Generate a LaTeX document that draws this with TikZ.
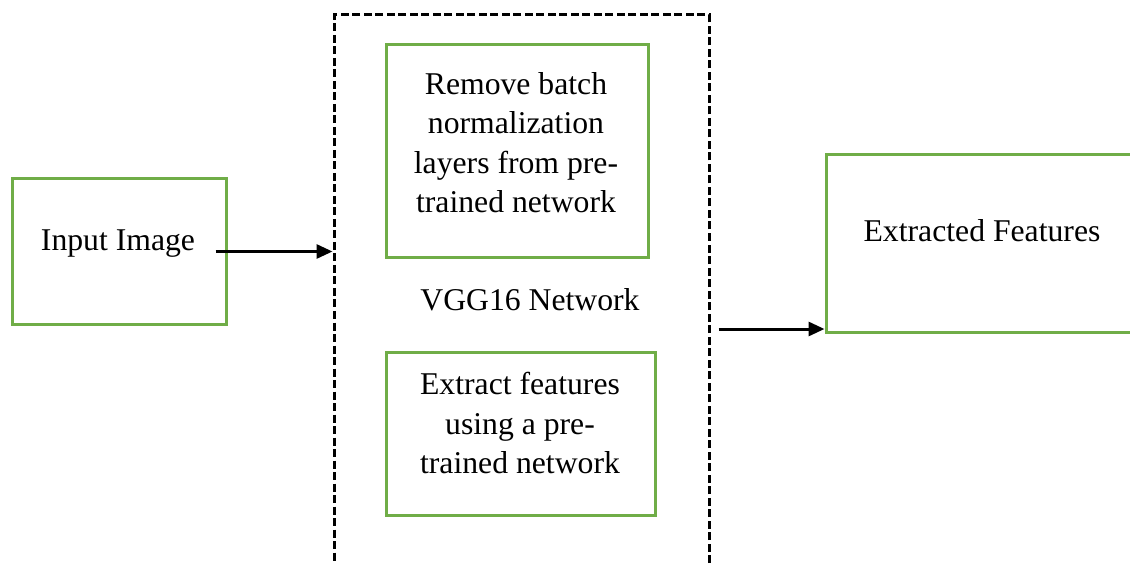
\documentclass[tikz,border=0pt]{standalone}
\usepackage{xcolor}
\usepackage{fontspec}
\setmainfont{Liberation Serif}
\usepackage{tikz}
\usetikzlibrary{arrows.meta, positioning}
\definecolor{boxgreen}{RGB}{112,173,71}

\begin{document}
\begin{tikzpicture}[x=1pt, y=-1pt,
			>={Triangle[length=16pt, width=14pt]},
			line width=3pt,
			box/.style={draw=boxgreen, line width=3pt},
			txt/.style={inner sep=0pt, align=center, font=\fontsize{31.7}{39.5}\selectfont}]
			
			\useasboundingbox (0,0) rectangle (1130,564);
			\clip (0,0) rectangle (1130,564);
			
			% network frame, runs off the bottom
			\node[draw=black, dash pattern=on 8pt off 3.5pt, minimum width=375pt, minimum height=610pt] (vgg) at (521.5,320) {};
			\node[txt, anchor=base] (vggtxt) at (530,310) {VGG16 Network};
			
			\node[box, minimum width=214pt, minimum height=145pt] (input) at (119,251.5) {};
			\node[txt, anchor=base] (inputtxt) at (118,251) {Input Image};
			
			\node[box, minimum width=262pt, minimum height=213pt] (removebn) at (517,151.5) {};
			\node[txt, anchor=north] (removebntxt) at (516,71) {Remove batch\\normalization\\layers from pre-\\trained network};
			
			\node[box, minimum width=269pt, minimum height=163pt] (extract) at (520.5,433.5) {};
			\node[txt, anchor=north] (extracttxt) at (520,371) {Extract features\\using a pre-\\trained network};
			
			\node[box, minimum width=312pt, minimum height=177pt] (features) at (982,243.5) {};
			\node[txt, anchor=base] (featurestxt) at (982,242) {Extracted Features};
			
			\coordinate (outy) at (0,329);
			\draw[->, black] ([xshift=-12pt]input.east) -- (vgg.west |- input.east);
			\draw[->, black] ([xshift=8pt]vgg.east |- outy) -- (features.west |- outy);
		\end{tikzpicture}
\end{document}
